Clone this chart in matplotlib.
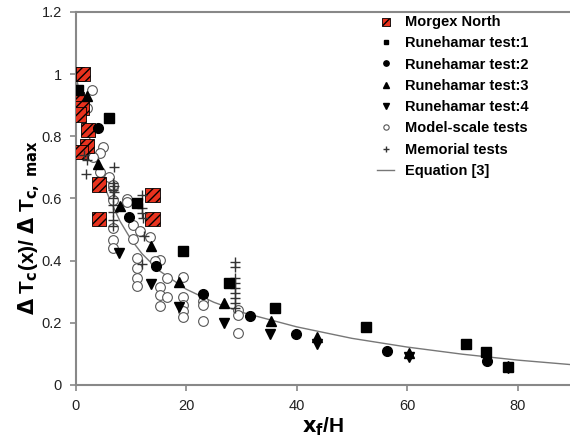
import matplotlib
matplotlib.use("Agg")
import matplotlib.pyplot as plt

plt.rcParams['font.family'] = ['Liberation Sans', 'DejaVu Sans']

# Morgex North
morgex_x = [0.2, 1.3, 0.2, 1.1, 0.5, 2.2, 2.0, 1.0, 4.2, 13.9, 4.2, 13.9]
morgex_y = [1.0, 1.0, 0.92, 0.89, 0.87, 0.82, 0.77, 0.75, 0.645, 0.61, 0.535, 0.535]

# Runehamar tests
rh1_x = [0.4, 6.0, 11.0, 19.4, 27.7, 36.0, 52.6, 70.7, 74.3, 78.3]
rh1_y = [0.95, 0.86, 0.585, 0.43, 0.328, 0.248, 0.187, 0.132, 0.106, 0.058]
rh2_x = [4.0, 9.6, 14.6, 23.0, 31.5, 39.8, 56.4, 74.5]
rh2_y = [0.827, 0.54, 0.383, 0.293, 0.222, 0.164, 0.11, 0.077]
rh3_x = [2.0, 4.0, 8.0, 13.7, 18.6, 26.8, 35.3, 43.6, 60.4, 78.3]
rh3_y = [0.93, 0.71, 0.576, 0.447, 0.33, 0.265, 0.206, 0.155, 0.102, 0.062]
rh4_x = [7.9, 13.6, 18.6, 26.8, 35.2, 43.6, 60.4, 78.3]
rh4_y = [0.425, 0.325, 0.25, 0.2, 0.164, 0.132, 0.09, 0.055]

# Model-scale tests
model_x = [2.9, 2.0, 4.9, 4.3, 3.1, 4.3, 6.1, 6.7, 9.2, 6.7, 6.7, 9.2, 6.7, 6.7,
           6.7, 10.3, 10.3, 11.0, 11.0, 11.0, 11.0, 11.6, 13.4, 15.2, 14.4, 15.2,
           15.2, 15.2, 16.6, 16.6, 19.5, 19.5, 19.5, 19.5, 19.5, 23.0, 23.0,
           23.0, 29.3, 29.3, 29.3]
model_y = [0.95, 0.89, 0.765, 0.746, 0.733, 0.685, 0.67, 0.637, 0.598, 0.643,
           0.595, 0.59, 0.505, 0.466, 0.44, 0.514, 0.47, 0.41, 0.376, 0.344,
           0.318, 0.495, 0.476, 0.402, 0.40, 0.315, 0.29, 0.254, 0.344, 0.283,
           0.347, 0.283, 0.257, 0.238, 0.219, 0.27, 0.258, 0.206, 0.241, 0.225,
           0.167]

# Memorial tests
memorial_x = [2.0, 1.8, 1.5, 6.9, 6.9, 6.9, 6.7, 6.7, 6.7, 6.7, 6.7, 6.7, 6.7,
              11.9, 11.9, 11.9, 12.1, 12.3, 11.9,
              28.9, 28.9, 28.9, 28.9, 28.9, 28.9, 28.9, 28.9, 28.9]
memorial_y = [0.723, 0.68, 0.74, 0.70, 0.64, 0.62, 0.65, 0.627, 0.60, 0.58,
              0.556, 0.53, 0.51,
              0.61, 0.57, 0.553, 0.537, 0.48, 0.39,
              0.396, 0.38, 0.344, 0.328, 0.312, 0.296, 0.28, 0.264, 0.248]

# Equation [3] curve
eq_x = [0, 1, 2, 3, 4, 5, 6, 8, 10, 12, 15, 20, 25, 30, 40, 50, 60, 70, 80, 90]
eq_y = [1.0, 0.909, 0.829, 0.761, 0.700, 0.648, 0.603, 0.527, 0.468, 0.422,
        0.369, 0.308, 0.266, 0.234, 0.187, 0.150, 0.122, 0.099, 0.080, 0.065]

fig = plt.figure(figsize=(5.70, 4.43), dpi=100)
ax = fig.add_axes([0.133, 0.131, 0.867, 0.842])

h_eq, = ax.plot(eq_x, eq_y, color='#777777', lw=1.0, zorder=2)
h_mod, = ax.plot(model_x, model_y, 'o', mfc='white', mec='#555555', mew=0.8,
                 ms=7, ls='none', zorder=3)
h_mor = ax.scatter(morgex_x, morgex_y, marker='s', s=105, facecolor='#e8321e',
                   edgecolor='black', hatch='////', linewidths=0.6, zorder=3)
h_mem, = ax.plot(memorial_x, memorial_y, '+', color='#333333', mew=1.0, ms=7.5,
                 ls='none', zorder=4)
h1, = ax.plot(rh1_x, rh1_y, 's', color='black', ms=6.5, ls='none', zorder=5)
h2, = ax.plot(rh2_x, rh2_y, 'o', color='black', ms=7, ls='none', zorder=5)
h3, = ax.plot(rh3_x, rh3_y, '^', color='black', ms=7.5, ls='none', zorder=5)
h4, = ax.plot(rh4_x, rh4_y, 'v', color='black', ms=7.5, ls='none', zorder=5)

ax.set_xlim(0, 89.5)
ax.set_ylim(0, 1.2)
ax.set_xticks([0, 20, 40, 60, 80])
ax.set_yticks([0, 0.2, 0.4, 0.6, 0.8, 1.0, 1.2])
ax.set_yticklabels(['0', '0.2', '0.4', '0.6', '0.8', '1', '1.2'])
ax.tick_params(labelsize=10.5, colors='#888888', labelcolor='#222222', length=4,
               width=1.2, pad=6)
for side in ['left', 'bottom', 'top']:
    ax.spines[side].set_color('#888888')
    ax.spines[side].set_linewidth(1.5)
ax.spines['right'].set_visible(False)

ax.set_xlabel(r'$\mathbf{x_f}$/H', fontsize=15, fontweight='bold', labelpad=2)
ax.set_ylabel(r'$\mathbf{\Delta}$ T$_\mathbf{c}$(x)/ $\mathbf{\Delta}$ T$_\mathbf{c,\ max}$',
              fontsize=15, fontweight='bold', va='center')
ax.yaxis.set_label_coords(-0.095, 0.42)

leg = ax.legend([h_mor, h1, h2, h3, h4, h_mod, h_mem, h_eq],
                ['Morgex North', 'Runehamar test:1', 'Runehamar test:2',
                 'Runehamar test:3', 'Runehamar test:4', 'Model-scale tests',
                 'Memorial tests', 'Equation [3]'],
                loc='upper left', bbox_to_anchor=(377 / 570, 1 - 15 / 443),
                bbox_transform=fig.transFigure, frameon=False,
                prop={'weight': 'bold', 'size': 10.5}, labelspacing=0.5,
                handlelength=1.2, handletextpad=0.7, markerscale=0.55,
                borderaxespad=0, borderpad=0)

fig.savefig('out.png', dpi=100)
